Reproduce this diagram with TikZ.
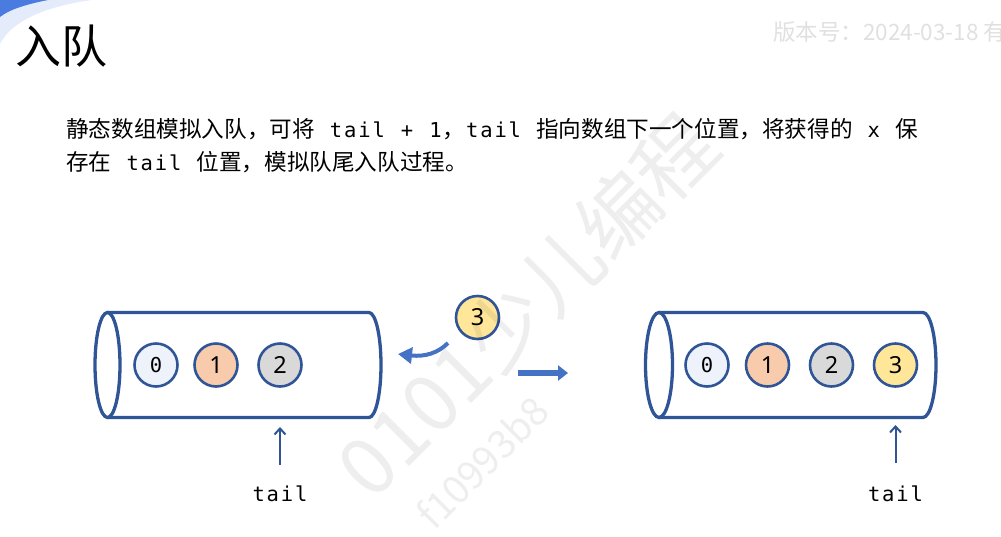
\documentclass[tikz,border=0pt]{standalone}
\usepackage{fontspec}
\setmainfont{Noto Sans CJK SC}
\newfontfamily\monofont{DejaVu Sans Mono}
\newfontfamily\digitfont{Noto Sans}
\usetikzlibrary{arrows.meta}

\definecolor{edge}{HTML}{2F5597}
\definecolor{flow}{HTML}{4472C4}
\definecolor{cA}{HTML}{EEF2FA}
\definecolor{cB}{HTML}{F8CBAD}
\definecolor{cC}{HTML}{D9D9D9}
\definecolor{cD}{HTML}{FFE699}
\definecolor{swoosh}{HTML}{4A7BDE}
\definecolor{swooshlight}{HTML}{E4ECFB}

% monospaced code with a fixed advance per character
\newcommand\mchar[1]{\makebox[14.2pt][c]{#1}}
\makeatletter
\def\mono@loop#1{\ifx\relax#1\else\mchar{#1}\expandafter\mono@loop\fi}
\newcommand\codetext[1]{{\monofont\fontsize{20.5}{20.5}\selectfont\mono@loop#1\relax}}
\makeatother

\begin{document}
\begin{tikzpicture}[x=1pt,y=-1pt,
  ball/.style={circle, draw=edge, line width=2.6pt, minimum size=43pt, inner sep=0pt},
  tube/.style={draw=edge, line width=3.3pt},
  ptr/.style={draw=edge, line width=2pt, -{Straight Barb[length=6pt,width=11pt,line width=2pt]}},
  digitM/.style={font=\monofont\fontsize{20.5}{20.5}\selectfont},
  digitS/.style={font=\digitfont\fontsize{23.5}{23.5}\selectfont},
  body/.style={anchor=base west, inner sep=0pt, font=\fontsize{22.6}{33}\selectfont},
  faint/.style={text=black, opacity=0.065, inner sep=0pt}]
\useasboundingbox (0,0) rectangle (1001,536);

% corner decoration
\fill[swooshlight] (0,0) -- (92,0) .. controls (48,6) and (12,20) .. (0,44) -- cycle;
\fill[swoosh] (0,0) -- (48,0) .. controls (28,4) and (10,9) .. (0,17) -- cycle;

% version stamp
\node[anchor=base west, text=black, opacity=0.12, inner sep=0pt,
      font=\fontsize{22.5}{22.5}\selectfont] (ver) at (773,40) {版本号：2024-03-18 有};

% title and description
\node[anchor=base west, inner sep=0pt, font=\fontsize{46}{46}\selectfont] (title) at (15,63) {入队};
\node[body] (line1) at (66,137.5) {静态数组模拟入队，可将\codetext{~tail~+~1}，\codetext{tail~}指向数组下一个位置，将获得的\codetext{~x~}保};
\node[body] (line2) at (66,170.5) {存在\codetext{~tail~}位置，模拟队尾入队过程。};

% queue before
\draw[tube] (107.5,365) ellipse [x radius=12.5, y radius=52.5];
\draw[tube] (107.5,312.5) -- (369,312.5) arc[start angle=-90, end angle=90, x radius=12, y radius=52.5] -- (107.5,417.5);
\node[ball, fill=cA, digitM] (a0) at (156,365) {0};
\node[ball, fill=cB, digitS] (a1) at (216,365) {1};
\node[ball, fill=cC, digitS] (a2) at (280,365) {2};

% element to enqueue
\node[ball, fill=cD, digitS] (x3) at (477.5,317.5) {3};
\coordinate (ca) at (448,343);
\coordinate (cb) at (398,354);
\draw[flow, line width=4pt, -{Triangle[length=14pt,width=16pt]}] (ca) .. controls (438,353) and (425,357) .. (cb);

% step arrow
\coordinate (ba) at (518,373);
\coordinate (bb) at (568,373);
\draw[flow, line width=6pt, -{Triangle[length=10pt,width=15pt]}] (ba) -- (bb);

% queue after
\draw[tube] (659,365) ellipse [x radius=13.5, y radius=52.5];
\draw[tube] (659,312.5) -- (923,312.5) arc[start angle=-90, end angle=90, x radius=13, y radius=52.5] -- (659,417.5);
\node[ball, fill=cA, digitM] (b0) at (707,365) {0};
\node[ball, fill=cB, digitS] (b1) at (767.5,365) {1};
\node[ball, fill=cC, digitS] (b2) at (831.5,365) {2};
\node[ball, fill=cD, digitS] (b3) at (895.5,365) {3};

% tail pointers
\node[anchor=base, inner sep=0pt] (tailA) at (280,501) {\codetext{tail}};
\coordinate (pa0) at (280,465);
\coordinate (pa1) at (280,427);
\draw[ptr] (pa0) -- (pa1);
\node[anchor=base, inner sep=0pt] (tailB) at (895.5,501) {\codetext{tail}};
\coordinate (pb0) at (895.5,463);
\coordinate (pb1) at (895.5,425);
\draw[ptr] (pb0) -- (pb1);

% watermark
\node[faint, rotate=45, font=\fontsize{80}{80}\selectfont] (wm1) at (527,305) {0101少儿编程};
\node[faint, rotate=45, font=\fontsize{39}{39}\selectfont] (wm2) at (482,462) {f10993b8};
\end{tikzpicture}
\end{document}
